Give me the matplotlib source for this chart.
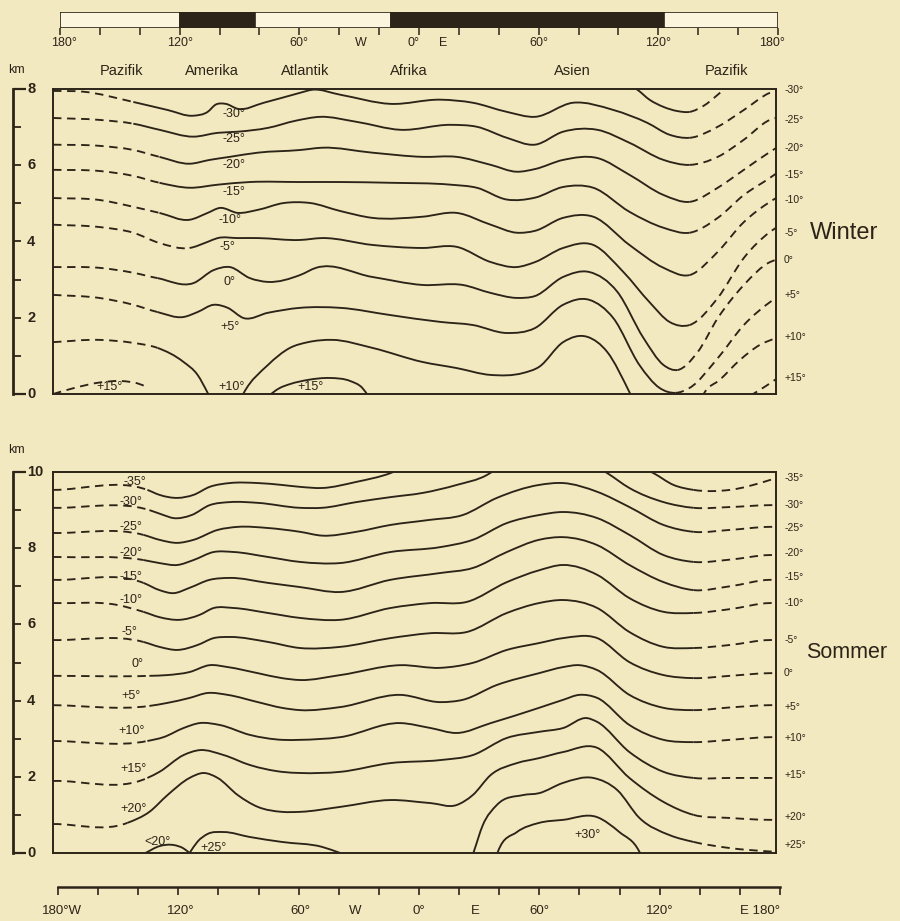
import numpy as np
import matplotlib
matplotlib.use("Agg")
import matplotlib.pyplot as plt
from matplotlib.path import Path
from matplotlib.patches import PathPatch
import matplotlib.transforms as mtrans

plt.rcParams['font.family'] = ['Liberation Sans', 'DejaVu Sans']

INK = '#2c2418'
PAPER = '#f3e9c0'
LIGHT = '#fbf5dd'

# ---------------- data: Winter isotherms (longitude deg, height km) ----------------
W_M35_LON = [107, 111, 117, 124, 131, 137, 144, 151, 156]
W_M35_KM = [8.11, 7.98, 7.72, 7.53, 7.42, 7.40, 7.56, 7.85, 8.08]

W_M30_LON = [-180, -165, -140, -123, -110, -103, -99, -94, -88, -75, -57, -51, -37, -12, 13, 29, 46, 60, 79, 99, 116, 127, 137, 151, 164, 177, 180]
W_M30_KM = [7.95, 7.93, 7.66, 7.45, 7.30, 7.40, 7.59, 7.61, 7.48, 7.64, 7.90, 7.98, 7.85, 7.61, 7.72, 7.64, 7.40, 7.27, 7.64, 7.45, 7.11, 6.80, 6.72, 7.01, 7.45, 7.90, 7.95]

W_M25_LON = [-180, -157, -140, -127, -110, -98, -88, -73, -59, -47, -29, -7, 18, 31, 46, 60, 74, 91, 107, 124, 137, 151, 164, 177, 180]
W_M25_KM = [7.24, 7.19, 7.09, 6.93, 6.75, 6.85, 6.88, 6.98, 7.17, 7.27, 7.14, 6.93, 7.06, 7.01, 6.72, 6.54, 6.88, 6.93, 6.59, 6.14, 6.01, 6.22, 6.67, 7.19, 7.24]

W_M20_LON = [-180, -157, -140, -127, -112, -102, -92, -78, -57, -46, -21, 4, 21, 38, 51, 60, 74, 91, 107, 124, 137, 151, 164, 177, 180]
W_M20_KM = [6.54, 6.51, 6.40, 6.22, 6.04, 6.14, 6.22, 6.33, 6.40, 6.46, 6.33, 6.22, 6.22, 6.01, 5.83, 5.90, 6.14, 6.19, 5.75, 5.22, 5.04, 5.41, 5.88, 6.35, 6.45]

W_M15_LON = [-180, -157, -140, -127, -112, -98, -82, -57, -37, -12, 18, 31, 46, 60, 74, 89, 107, 124, 137, 151, 164, 177, 180]
W_M15_KM = [5.88, 5.85, 5.72, 5.54, 5.41, 5.49, 5.56, 5.56, 5.56, 5.54, 5.49, 5.41, 5.10, 5.15, 5.43, 5.41, 4.78, 4.36, 4.23, 4.62, 5.22, 5.67, 5.78]

W_M10_LON = [-180, -157, -140, -127, -112, -103, -97, -88, -78, -65, -52, -37, -21, 4, 21, 38, 51, 60, 74, 89, 107, 124, 137, 151, 164, 177, 180]
W_M10_KM = [5.14, 5.09, 4.91, 4.75, 4.57, 4.75, 4.88, 4.75, 4.83, 5.01, 5.01, 4.80, 4.62, 4.65, 4.75, 4.44, 4.23, 4.28, 4.62, 4.65, 3.91, 3.31, 3.12, 3.73, 4.51, 5.04, 5.14]

W_M5_LON = [-180, -157, -140, -127, -112, -103, -98, -88, -78, -57, -46, -21, 4, 21, 38, 51, 60, 74, 89, 104, 117, 127, 137, 151, 164, 177, 180]
W_M5_KM = [4.44, 4.38, 4.23, 3.96, 3.83, 3.99, 4.09, 4.09, 4.09, 4.04, 4.09, 3.91, 3.83, 3.86, 3.46, 3.33, 3.46, 3.83, 3.91, 3.20, 2.41, 1.89, 1.81, 2.52, 3.57, 4.25, 4.36]

W_0_LON = [-180, -157, -140, -128, -110, -100, -92, -82, -73, -57, -49, -21, 4, 24, 38, 51, 60, 74, 87, 101, 114, 124, 131, 141, 151, 164, 177, 180]
W_0_KM = [3.33, 3.31, 3.18, 3.04, 2.91, 3.25, 3.33, 3.04, 2.94, 3.12, 3.31, 3.07, 2.86, 2.86, 2.65, 2.52, 2.57, 3.07, 3.20, 2.68, 1.47, 0.76, 0.63, 1.10, 1.99, 2.86, 3.46, 3.52]

W_P5_LON = [-180, -157, -140, -128, -115, -108, -100, -93, -85, -73, -57, -37, -12, 13, 29, 46, 60, 74, 87, 99, 112, 122, 130, 137, 151, 164, 177, 180]
W_P5_KM = [2.60, 2.52, 2.34, 2.15, 2.02, 2.15, 2.34, 2.26, 1.99, 2.13, 2.26, 2.26, 2.07, 1.89, 1.81, 1.60, 1.73, 2.34, 2.47, 1.99, 0.76, 0.16, 0.03, 0.16, 0.94, 1.81, 2.41, 2.52]

W_P10_LON = [-180, -157, -140, -128, -115, -108, -103, -99, -89, -85, -73, -62, -53, -41, -21, 4, 21, 38, 54, 62, 74, 86, 96, 107, 112, 140, 144, 152, 162, 172, 180]
W_P10_KM = [1.36, 1.42, 1.34, 1.21, 0.84, 0.50, 0.03, -0.40, -0.40, 0.03, 0.76, 1.21, 1.36, 1.42, 1.21, 0.84, 0.68, 0.50, 0.55, 0.71, 1.36, 1.50, 1.10, 0.05, -0.50, -0.50, 0.00, 0.37, 0.89, 1.29, 1.47]

W_P15A_LON = [-180, -170, -157, -146, -138, -133]
W_P15A_KM = [0.00, 0.15, 0.30, 0.34, 0.28, 0.18]
W_P15B_LON = [-74, -67, -62, -53, -42, -32, -26, -23]
W_P15B_KM = [-0.10, 0.16, 0.26, 0.37, 0.42, 0.34, 0.16, -0.05]
W_P15C_LON = [167, 175, 180]
W_P15C_KM = [-0.05, 0.21, 0.39]

# ---------------- data: Summer isotherms ----------------
S_M35A_LON = [-180, -133, -127, -118, -110, -102, -92, -78, -66, -57, -46, -29, -12, -6]
S_M35A_KM = [9.53, 9.53, 9.40, 9.32, 9.40, 9.61, 9.71, 9.71, 9.66, 9.61, 9.58, 9.74, 9.97, 10.10]
S_M35B_LON = [114, 119, 129, 139, 157, 177, 180]
S_M35B_KM = [10.10, 9.97, 9.66, 9.53, 9.53, 9.79, 9.84]

S_M30A_LON = [-180, -132, -125, -120, -111, -102, -92, -78, -57, -46, -29, -12, 4, 21, 36, 40]
S_M30A_KM = [9.06, 9.00, 8.87, 8.79, 8.87, 9.13, 9.21, 9.19, 9.06, 9.06, 9.21, 9.34, 9.45, 9.66, 9.92, 10.05]
S_M30B_LON = [92, 96, 107, 124, 139, 157, 177, 180]
S_M30B_KM = [10.10, 9.97, 9.58, 9.21, 9.06, 9.08, 9.13, 9.13]

S_M25_LON = [-180, -135, -127, -118, -110, -98, -88, -73, -57, -46, -29, -12, 7, 24, 41, 62, 74, 91, 107, 124, 139, 157, 177, 180]
S_M25_KM = [8.40, 8.35, 8.22, 8.14, 8.22, 8.48, 8.56, 8.53, 8.43, 8.33, 8.43, 8.61, 8.74, 8.87, 9.32, 9.66, 9.71, 9.48, 9.08, 8.61, 8.43, 8.48, 8.56, 8.56]

S_M20_LON = [-180, -135, -127, -118, -110, -100, -90, -73, -57, -37, -12, 13, 29, 46, 62, 74, 91, 107, 124, 139, 157, 177, 180]
S_M20_KM = [7.77, 7.69, 7.61, 7.56, 7.69, 7.90, 7.90, 7.77, 7.64, 7.61, 7.90, 8.03, 8.22, 8.66, 8.87, 8.95, 8.79, 8.35, 7.82, 7.64, 7.70, 7.82, 7.82]

S_M15_LON = [-180, -135, -127, -120, -112, -102, -92, -73, -57, -37, -12, 13, 29, 46, 62, 74, 91, 107, 124, 139, 157, 177, 180]
S_M15_KM = [7.17, 7.09, 6.90, 6.82, 6.96, 7.17, 7.22, 7.09, 6.98, 6.85, 7.17, 7.35, 7.48, 7.90, 8.22, 8.29, 8.08, 7.56, 7.11, 6.90, 7.00, 7.17, 7.17]

S_M10_LON = [-180, -148, -135, -127, -117, -107, -100, -90, -73, -57, -37, -12, 8, 26, 46, 62, 74, 91, 107, 124, 139, 157, 177, 180]
S_M10_KM = [6.56, 6.51, 6.33, 6.19, 6.12, 6.25, 6.43, 6.43, 6.30, 6.17, 6.12, 6.43, 6.56, 6.59, 7.11, 7.42, 7.56, 7.30, 6.69, 6.33, 6.30, 6.40, 6.56, 6.56]

S_M5_LON = [-180, -135, -127, -118, -108, -100, -92, -73, -57, -37, -12, 8, 26, 46, 62, 74, 91, 107, 124, 139, 157, 177, 180]
S_M5_KM = [5.59, 5.54, 5.41, 5.33, 5.46, 5.64, 5.67, 5.54, 5.38, 5.41, 5.64, 5.77, 5.80, 6.30, 6.56, 6.64, 6.43, 5.80, 5.41, 5.38, 5.46, 5.59, 5.59]

S_0_LON = [-180, -132, -123, -112, -102, -93, -78, -66, -57, -37, -7, 13, 29, 46, 62, 74, 91, 107, 124, 139, 157, 177, 180]
S_0_KM = [4.65, 4.65, 4.67, 4.75, 4.93, 4.88, 4.72, 4.59, 4.54, 4.67, 4.93, 4.86, 4.99, 5.33, 5.51, 5.64, 5.64, 5.01, 4.67, 4.59, 4.65, 4.72, 4.72]

S_P5_LON = [-180, -132, -123, -112, -103, -93, -78, -66, -57, -37, -7, 13, 24, 41, 62, 74, 82, 91, 107, 124, 139, 157, 177, 180]
S_P5_KM = [3.88, 3.86, 3.94, 4.07, 4.20, 4.15, 3.96, 3.81, 3.75, 3.83, 4.15, 3.96, 4.02, 4.41, 4.72, 4.88, 4.93, 4.80, 4.15, 3.81, 3.75, 3.82, 3.88, 3.88]

S_P10_LON = [-180, -133, -125, -115, -107, -97, -82, -66, -57, -37, -7, 8, 21, 38, 62, 74, 82, 91, 107, 124, 139, 157, 177, 180]
S_P10_KM = [2.94, 2.94, 3.04, 3.28, 3.41, 3.36, 3.10, 2.97, 2.97, 3.04, 3.41, 3.28, 3.15, 3.41, 3.81, 4.02, 4.15, 4.07, 3.36, 2.97, 2.91, 2.97, 3.04, 3.04]

S_P15_LON = [-180, -133, -127, -115, -107, -95, -82, -66, -57, -37, -12, 13, 29, 46, 62, 74, 86, 91, 107, 124, 139, 157, 177, 180]
S_P15_KM = [1.89, 1.97, 2.13, 2.57, 2.70, 2.57, 2.31, 2.13, 2.10, 2.13, 2.36, 2.44, 2.57, 3.02, 3.18, 3.28, 3.54, 3.44, 2.65, 2.13, 1.97, 1.97, 1.97, 1.97]

S_P20_LON = [-180, -143, -132, -123, -112, -105, -98, -88, -78, -66, -57, -37, -12, 8, 21, 29, 38, 51, 62, 74, 91, 107, 124, 139, 157, 177, 180]
S_P20_KM = [0.76, 0.79, 1.08, 1.52, 1.97, 2.10, 1.97, 1.52, 1.21, 1.08, 1.08, 1.21, 1.39, 1.31, 1.26, 1.52, 2.05, 2.36, 2.49, 2.65, 2.76, 1.97, 1.34, 1.00, 0.92, 0.87, 0.87]

S_P25_LON = [28, 29.5, 34, 41, 54, 62, 74, 89, 101, 112, 127, 139, 157, 177, 180]
S_P25_KM = [-0.20, 0.03, 0.73, 1.26, 1.52, 1.57, 1.84, 1.97, 1.65, 0.92, 0.47, 0.29, 0.13, 0.04, 0.03]

S_P30_LON = [40, 41.5, 51, 62, 74, 91, 102, 112, 114]
S_P30_KM = [-0.20, 0.03, 0.55, 0.79, 0.87, 0.94, 0.55, 0.03, -0.20]

S_P25A_LON = [-134, -127, -120, -115, -112]
S_P25A_KM = [0.00, 0.18, 0.21, 0.12, 0.00]
S_P25B_LON = [-112, -108, -103, -95, -82, -66, -46, -37]
S_P25B_KM = [0.00, 0.30, 0.50, 0.55, 0.42, 0.29, 0.16, 0.00]

# ---------------- labels ----------------
W_RIGHT_TXT = ['-30°', '-25°', '-20°', '-15°', '-10°', '-5°', '0°', '+5°', '+10°', '+15°']
W_RIGHT_KM = [7.98, 7.19, 6.46, 5.75, 5.09, 4.23, 3.52, 2.60, 1.50, 0.42]
S_RIGHT_TXT = ['-35°', '-30°', '-25°', '-20°', '-15°', '-10°', '-5°', '0°', '+5°', '+10°', '+15°', '+20°', '+25°']
S_RIGHT_KM = [9.84, 9.13, 8.53, 7.87, 7.24, 6.56, 5.59, 4.72, 3.83, 3.02, 2.05, 0.94, 0.21]

W_IN_TXT = ['-30°', '-25°', '-20°', '-15°', '-10°', '-5°', '0°', '+5°', '+10°', '+15°', '+15°']
W_IN_LON = [-90, -90, -90, -90, -92, -93, -92, -92, -91, -52, -152]
W_IN_KM = [7.35, 6.68, 6.00, 5.30, 4.57, 3.86, 2.94, 1.76, 0.18, 0.18, 0.18]

S_IN_TXT = ['-35°', '-30°', '-25°', '-20°', '-15°', '-10°', '-5°', '0°', '+5°', '+10°', '+15°', '+20°', '<20°', '+25°', '+30°']
S_IN_LON = [-139, -141, -141, -141, -141, -141, -142, -138, -141, -141, -140, -140, -128, -100, 86]
S_IN_KM = [9.74, 9.21, 8.56, 7.87, 7.24, 6.64, 5.80, 4.95, 4.12, 3.20, 2.20, 1.15, 0.28, 0.14, 0.47]

BAR_EDGES = [-180, -120, -82, -14, 123, 180]
BAR_DARK = [False, True, False, True, False]
TOP_TICK_LON = [-178, -120, -60, -29, -3, 12, 60, 120, 177]
TOP_TICK_TXT = ['180°', '120°', '60°', 'W', '0°', 'E', '60°', '120°', '180°']
REGION_LON = [-149, -104, -57, -5, 77, 154]
REGION_TXT = ['Pazifik', 'Amerika', 'Atlantik', 'Afrika', 'Asien', 'Pazifik']
BOT_TICK_LON = [-178, -119, -59, -32, 0, 28, 60, 120, 170]
BOT_TICK_TXT = ['180°W', '120°', '60°', 'W', '0°', 'E', '60°', '120°', 'E 180°']

W_SCALE_TICKS = [0, 2, 4, 6, 8]
S_SCALE_TICKS = [0, 2, 4, 6, 8, 10]

# ---------------- helpers ----------------
W, H = 900, 921


def fx(px):
    return px / W


def fy(py):
    return 1 - py / H


def draw_iso(ax, lons, kms, solid):
    x = np.asarray(lons, dtype=float)
    y = np.asarray(kms, dtype=float)
    n = len(x)
    h = np.diff(x)
    d = np.diff(y) / h
    m = np.empty(n)
    m[0] = d[0]
    m[-1] = d[-1]
    for i in range(1, n - 1):
        m[i] = (d[i - 1] * h[i] + d[i] * h[i - 1]) / (h[i - 1] + h[i])
    segs = []
    for i in range(n - 1):
        p1 = (x[i], y[i])
        p2 = (x[i + 1], y[i + 1])
        c1 = (x[i] + h[i] / 3, y[i] + m[i] * h[i] / 3)
        c2 = (x[i + 1] - h[i] / 3, y[i + 1] - m[i + 1] * h[i] / 3)
        segs.append([p1, c1, c2, p2])
    if solid is None:
        flags = [False] * (n - 1)
    else:
        a, b = solid
        flags = [(x[i] >= a - 1e-6) and (x[i + 1] <= b + 1e-6) for i in range(n - 1)]
    i = 0
    while i < n - 1:
        j = i
        while j + 1 < n - 1 and flags[j + 1] == flags[i]:
            j += 1
        verts = [segs[i][0]]
        codes = [Path.MOVETO]
        for k in range(i, j + 1):
            verts += segs[k][1:]
            codes += [Path.CURVE4] * 3
        ls = '-' if flags[i] else (0, (4.5, 3.0))
        ax.add_patch(PathPatch(Path(verts, codes), fill=False, edgecolor=INK,
                               lw=1.35, linestyle=ls, capstyle='butt', joinstyle='round'))
        i = j + 1


def panel_axes(top_px, bot_px, ymax):
    ax = fig.add_axes([fx(53), fy(bot_px), fx(776) - fx(53), fy(top_px) - fy(bot_px)])
    ax.set_xlim(-180, 180)
    ax.set_ylim(0, ymax)
    ax.set_facecolor('none')
    ax.set_xticks([])
    ax.set_yticks([])
    for s in ax.spines.values():
        s.set_linewidth(1.4)
        s.set_color(INK)
    return ax


def km_scale(top_px, bot_px, ymax, labels):
    sc = fig.add_axes([fx(13), fy(bot_px), fx(43) - fx(13), fy(top_px) - fy(bot_px)])
    sc.set_xlim(0, 1)
    sc.set_ylim(0, ymax)
    sc.set_facecolor('none')
    for k in ['top', 'right', 'bottom']:
        sc.spines[k].set_visible(False)
    sc.spines['left'].set_linewidth(2.0)
    sc.spines['left'].set_color(INK)
    sc.spines['left'].set_bounds(0, ymax)
    sc.set_xticks([])
    sc.set_yticks([0, ymax])
    sc.set_yticks([v for v in range(1, ymax)], minor=True)
    sc.tick_params(axis='y', which='major', direction='in', length=9, width=1.6,
                   color=INK, labelleft=False)
    sc.tick_params(axis='y', which='minor', direction='in', length=6, width=1.3,
                   color=INK, labelleft=False)
    for v in labels:
        sc.text(0.47, v, str(v), ha='left', va='center', fontsize=10.5, color=INK,
                fontweight='bold')
    return sc


fig = plt.figure(figsize=(W / 100, H / 100), dpi=100)
fig.patch.set_facecolor(PAPER)

# ---------------- top longitude bar ----------------
axb = fig.add_axes([fx(60), fy(28), fx(778) - fx(60), fy(12) - fy(28)])
axb.set_xlim(-180, 180)
axb.set_ylim(0, 1)
axb.set_facecolor('none')
edges = np.array(BAR_EDGES, dtype=float)
axb.barh(0.5, np.diff(edges), left=edges[:-1], height=1.0,
         color=[INK if d else LIGHT for d in BAR_DARK], edgecolor=INK, linewidth=1.2)
for s in axb.spines.values():
    s.set_visible(False)
axb.set_yticks([])
axb.set_xticks(np.arange(-180, 181, 20))
axb.tick_params(axis='x', direction='out', length=5, width=1.1, color=INK, labelbottom=False)
tb = mtrans.blended_transform_factory(axb.transData, fig.transFigure)
for lon, t in zip(TOP_TICK_LON, TOP_TICK_TXT):
    axb.text(lon, fy(43), t, transform=tb, ha='center', va='center', fontsize=9, color=INK)
for lon, t in zip(REGION_LON, REGION_TXT):
    axb.text(lon, fy(71), t, transform=tb, ha='center', va='center', fontsize=10.5, color=INK)
fig.text(fx(16), fy(70), 'km', ha='center', va='center', fontsize=9, color=INK)

# ---------------- Winter ----------------
axw = panel_axes(89, 394, 8)
draw_iso(axw, W_M35_LON, W_M35_KM, (-180, 137))
draw_iso(axw, W_M30_LON, W_M30_KM, (-140, 137))
draw_iso(axw, W_M25_LON, W_M25_KM, (-140, 137))
draw_iso(axw, W_M20_LON, W_M20_KM, (-127, 137))
draw_iso(axw, W_M15_LON, W_M15_KM, (-127, 137))
draw_iso(axw, W_M10_LON, W_M10_KM, (-127, 137))
draw_iso(axw, W_M5_LON, W_M5_KM, (-112, 137))
draw_iso(axw, W_0_LON, W_0_KM, (-128, 131))
draw_iso(axw, W_P5_LON, W_P5_KM, (-128, 130))
draw_iso(axw, W_P10_LON, W_P10_KM, (-128, 112))
draw_iso(axw, W_P15A_LON, W_P15A_KM, None)
draw_iso(axw, W_P15B_LON, W_P15B_KM, (-180, 180))
draw_iso(axw, W_P15C_LON, W_P15C_KM, None)
for t, lo, k in zip(W_IN_TXT, W_IN_LON, W_IN_KM):
    axw.text(lo, k, t, ha='center', va='center', fontsize=9, color=INK)
for t, k in zip(W_RIGHT_TXT, W_RIGHT_KM):
    axw.text(184, k, t, ha='left', va='center', fontsize=7.5, color=INK, clip_on=False)
axw.text(197, 4.23, 'Winter', ha='left', va='center', fontsize=17, color=INK, clip_on=False)
km_scale(89, 394, 8, W_SCALE_TICKS)

# ---------------- Summer ----------------
fig.text(fx(16), fy(450), 'km', ha='center', va='center', fontsize=9, color=INK)
axs = panel_axes(472, 853, 10)
draw_iso(axs, S_M35A_LON, S_M35A_KM, (-133, 180))
draw_iso(axs, S_M35B_LON, S_M35B_KM, (-180, 139))
draw_iso(axs, S_M30A_LON, S_M30A_KM, (-132, 180))
draw_iso(axs, S_M30B_LON, S_M30B_KM, (-180, 139))
draw_iso(axs, S_M25_LON, S_M25_KM, (-135, 139))
draw_iso(axs, S_M20_LON, S_M20_KM, (-135, 139))
draw_iso(axs, S_M15_LON, S_M15_KM, (-135, 139))
draw_iso(axs, S_M10_LON, S_M10_KM, (-135, 139))
draw_iso(axs, S_M5_LON, S_M5_KM, (-135, 139))
draw_iso(axs, S_0_LON, S_0_KM, (-132, 139))
draw_iso(axs, S_P5_LON, S_P5_KM, (-132, 139))
draw_iso(axs, S_P10_LON, S_P10_KM, (-133, 139))
draw_iso(axs, S_P15_LON, S_P15_KM, (-133, 139))
draw_iso(axs, S_P20_LON, S_P20_KM, (-143, 139))
draw_iso(axs, S_P25_LON, S_P25_KM, (-180, 139))
draw_iso(axs, S_P30_LON, S_P30_KM, (-180, 180))
draw_iso(axs, S_P25A_LON, S_P25A_KM, (-180, 180))
draw_iso(axs, S_P25B_LON, S_P25B_KM, (-180, 180))
for t, lo, k in zip(S_IN_TXT, S_IN_LON, S_IN_KM):
    axs.text(lo, k, t, ha='center', va='center', fontsize=9, color=INK)
for t, k in zip(S_RIGHT_TXT, S_RIGHT_KM):
    axs.text(184, k, t, ha='left', va='center', fontsize=7.5, color=INK, clip_on=False)
axs.text(195, 5.25, 'Sommer', ha='left', va='center', fontsize=15.5, color=INK, clip_on=False)
km_scale(472, 853, 10, S_SCALE_TICKS)

# ---------------- bottom longitude scale ----------------
axl = fig.add_axes([fx(58), fy(887), fx(780) - fx(58), 0.0005])
axl.set_xlim(-180, 180)
axl.set_facecolor('none')
for k in ['top', 'left', 'right']:
    axl.spines[k].set_visible(False)
axl.spines['bottom'].set_linewidth(1.8)
axl.spines['bottom'].set_color(INK)
axl.set_yticks([])
axl.set_xticks(np.arange(-180, 181, 20))
axl.tick_params(axis='x', direction='out', length=6, width=1.2, color=INK, labelbottom=False)
tl = mtrans.blended_transform_factory(axl.transData, fig.transFigure)
for lon, t in zip(BOT_TICK_LON, BOT_TICK_TXT):
    axl.text(lon, fy(911), t, transform=tl, ha='center', va='center', fontsize=9.5, color=INK)

fig.savefig('out.png', dpi=100, facecolor=PAPER)
